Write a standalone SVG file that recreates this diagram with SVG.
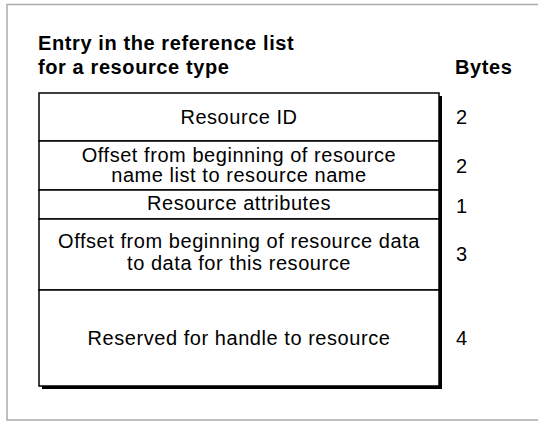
<svg xmlns="http://www.w3.org/2000/svg" width="538" height="421" viewBox="0 0 538 421">
  <style>
    .title { font-family: "Liberation Sans", Arial, sans-serif; font-weight: bold; font-size: 20px; letter-spacing: 0.6px; fill: #000; }
    .label { font-family: "Liberation Sans", Arial, sans-serif; font-size: 20px; letter-spacing: 0.55px; fill: #000; text-anchor: middle; }
    .num { font-family: "Liberation Sans", Arial, sans-serif; font-size: 20px; fill: #000; }
    .cell { fill: #fff; stroke: #000; stroke-width: 1.5; }
    .frame { fill: none; stroke: #aaa; stroke-width: 1.5; }
  </style>
  <rect width="538" height="421" fill="#fff"/>
  <!-- page frame -->
  <path class="frame" d="M538 4.5 H7 V420 H538"/>

  <!-- headings -->
  <text class="title" x="38" y="50">Entry in the reference list</text>
  <text class="title" x="38" y="74">for a resource type</text>
  <text class="title" x="455" y="74">Bytes</text>

  <!-- drop shadow of the entry box -->
  <rect x="42" y="96" width="400" height="293" fill="#000"/>

  <g id="resource-id">
    <rect class="cell" x="39" y="93" width="400" height="48"/>
    <text class="label" x="239" y="124">Resource ID</text>
    <text class="num" x="456" y="124">2</text>
  </g>
  <g id="name-offset">
    <rect class="cell" x="39" y="141" width="400" height="49"/>
    <text class="label" x="239" y="162">Offset from beginning of resource</text>
    <text class="label" x="239" y="182">name list to resource name</text>
    <text class="num" x="456" y="173">2</text>
  </g>
  <g id="attributes">
    <rect class="cell" x="39" y="190" width="400" height="29"/>
    <text class="label" x="239" y="210">Resource attributes</text>
    <text class="num" x="456" y="213">1</text>
  </g>
  <g id="data-offset">
    <rect class="cell" x="39" y="219" width="400" height="71"/>
    <text class="label" x="239" y="248">Offset from beginning of resource data</text>
    <text class="label" x="239" y="270">to data for this resource</text>
    <text class="num" x="456" y="261">3</text>
  </g>
  <g id="handle">
    <rect class="cell" x="39" y="290" width="400" height="96"/>
    <text class="label" x="239" y="345">Reserved for handle to resource</text>
    <text class="num" x="456" y="345">4</text>
  </g>
  <g id="connectors"/>
</svg>
